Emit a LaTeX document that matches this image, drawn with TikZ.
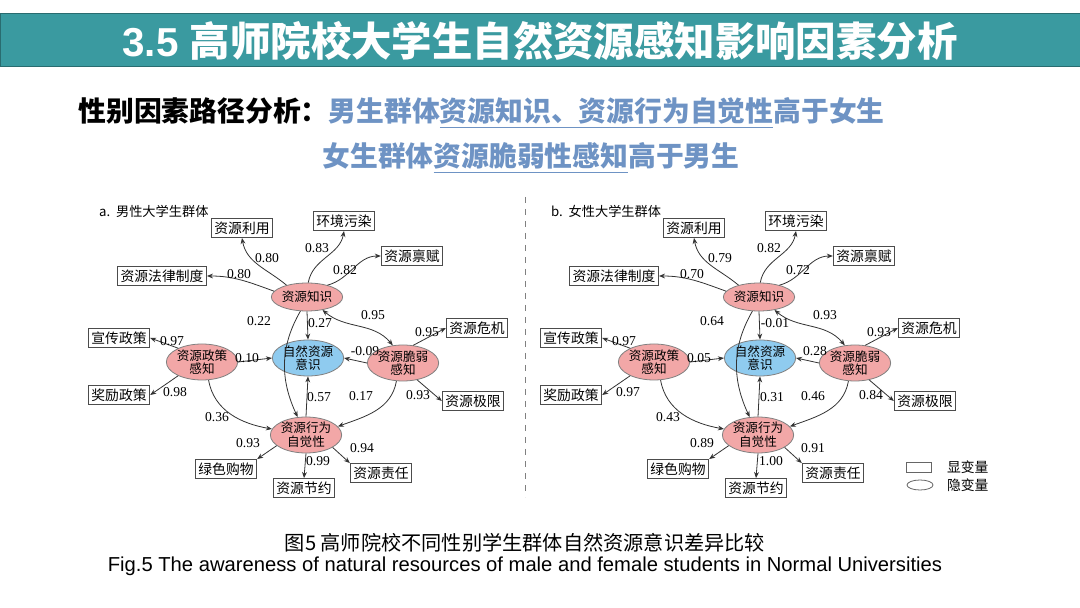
\documentclass[tikz,border=0pt]{standalone}
\usepackage{fontspec}
\setmainfont{Liberation Serif}
\newfontfamily\cjk{Noto Sans CJK SC}
\newfontfamily\arial{Liberation Sans}
\usetikzlibrary{arrows.meta,shapes.geometric}
\definecolor{teal}{HTML}{3A9AA0}
\definecolor{hblue}{HTML}{6E93C4}
\definecolor{lat}{HTML}{F2A7A7}
\definecolor{dep}{HTML}{8FCBEF}
\tikzset{
 box/.style={draw=black!70,fill=white,line width=0.4pt,inner sep=1.6pt,minimum height=9pt,font=\cjk\fontsize{6.9}{7.5}\selectfont},
 lv/.style={ellipse,draw=black!50,fill=lat,line width=0.4pt,minimum width=32pt,minimum height=14pt,inner sep=0pt,align=center,font=\cjk\fontsize{6.3}{6.8}\selectfont},
 lv2/.style={lv,minimum height=18pt},
 num/.style={font=\fontsize{6.8}{7}\selectfont},
 arr/.style={-{Stealth[length=3pt,width=2.4pt]},line width=0.4pt,black!80},
 darr/.style={{Stealth[length=3pt,width=2.4pt]}-{Stealth[length=3pt,width=2.4pt]},line width=0.4pt,black!80}
}
\newcommand{\drawpanel}[1]{%
\begin{scope}[xshift=#1*0.5pt]
\node[lv] (K) at (307,297) {资源知识};
\node[lv2,fill=dep] (A) at (308,358) {自然资源\\意识};
\node[lv2] (P) at (202,362) {资源政策\\感知};
\node[lv2] (V) at (403,363) {资源脆弱\\感知};
\node[lv2] (B) at (306,435) {资源行为\\自觉性};
\node[box] (b1) at (242,228) {资源利用};
\node[box] (b2) at (344,221) {环境污染};
\node[box] (b3) at (412,256) {资源禀赋};
\node[box] (b4) at (162,276) {资源法律制度};
\node[box] (b5) at (119,338) {宣传政策};
\node[box] (b6) at (119,395) {奖励政策};
\node[box] (b7) at (477,328) {资源危机};
\node[box] (b8) at (473,401) {资源极限};
\node[box] (b9) at (226,469) {绿色购物};
\node[box] (b10) at (304,488) {资源节约};
\node[box] (b11) at (381,473) {资源责任};
\draw[arr] (K.150) to[out=140,in=-80] (b1.south);
\draw[arr] (K.85) to[out=80,in=-100] (b2.south);
\draw[arr] (K.30) to[out=15,in=180] (b3.west);
\draw[arr] (K.170) to[out=160,in=0] (b4.east);
\draw[arr] (P.150) -- (b5.east);
\draw[arr] (P.210) -- (b6.east);
\draw[arr] (V.60) -- (b7.west);
\draw[arr] (V.-50) -- (b8.west);
\draw[arr] (B.200) -- (b9.north east);
\draw[arr] (B.south) -- (b10.north);
\draw[arr] (B.-25) -- (b11.north west);
\draw[arr] (K.south) -- (A.north);
\draw[arr] (P.east) -- (A.west);
\draw[arr] (V.west) -- (A.east);
\draw[arr] (B.north) -- (A.south);
\draw[darr] (K.-40) to[out=-40,in=130] (V.120);
\draw[arr] (K.-115) to[out=-120,in=115] (B.115);
\draw[arr] (P.-70) to[out=-80,in=170] (B.170);
\draw[arr] (V.-110) to[out=-100,in=20] (B.15);
\end{scope}}
\newcommand{\lab}[3]{\node[num] at (#1,#2) {#3};}
\begin{document}
\begin{tikzpicture}[x=0.5pt,y=-0.5pt]
\useasboundingbox (0,0) rectangle (1080,608);
\fill[white] (0,0) rectangle (1080,608);
\fill[teal] (0,14) rectangle (1080,67);
\draw[teal!70!black,line width=0.5pt] (0,14) rectangle (1080,67);
\node[font=\arial\bfseries\fontsize{20.2}{23}\selectfont,text=white] (title) at (540,41) {3.5 {\cjk\bfseries 高师院校大学生自然资源感知影响因素分析}};
\node[anchor=west,font=\cjk\bfseries\fontsize{13.9}{16}\selectfont,inner sep=0] (s1) at (78,113) {性别因素路径分析：\textcolor{hblue}{男生群体\underline{资源知识、资源行为自觉性}高于女生}};
\node[anchor=west,font=\cjk\bfseries\fontsize{13.9}{16}\selectfont,inner sep=0,text=hblue] (s2) at (322,158) {女生群体\underline{资源脆弱性感知}高于男生};
\draw[dashed,black!50,line width=0.4pt] (525,197) -- (525,497);
\node[anchor=west,font=\cjk\fontsize{6.6}{7}\selectfont] (ta) at (92,211) {a.\ \ 男性大学生群体};
\node[anchor=west,font=\cjk\fontsize{6.6}{7}\selectfont] (tb) at (544,211) {b.\ \ 女性大学生群体};
\drawpanel{0}
\lab{267}{258}{0.80}\lab{317}{248}{0.83}\lab{345}{270}{0.82}\lab{239}{274}{0.80}
\lab{373}{315}{0.95}\lab{259}{321}{0.22}\lab{320}{323}{0.27}\lab{172}{341}{0.97}
\lab{247}{358}{0.10}\lab{365}{351}{-0.09}\lab{427}{332}{0.95}\lab{175}{392}{0.98}
\lab{319}{397}{0.57}\lab{361}{396}{0.17}\lab{418}{395}{0.93}\lab{217}{417}{0.36}
\lab{248}{443}{0.93}\lab{362}{448}{0.94}\lab{318}{461}{0.99}
\drawpanel{452}
\lab{720}{258}{0.79}\lab{769}{248}{0.82}\lab{798}{270}{0.72}\lab{692}{274}{0.70}
\lab{825}{315}{0.93}\lab{712}{321}{0.64}\lab{775}{323}{-0.01}\lab{624}{341}{0.97}
\lab{699}{358}{0.05}\lab{815}{351}{0.28}\lab{879}{332}{0.93}\lab{628}{392}{0.97}
\lab{772}{397}{0.31}\lab{813}{396}{0.46}\lab{871}{395}{0.84}\lab{668}{417}{0.43}
\lab{702}{443}{0.89}\lab{813}{448}{0.91}\lab{771}{461}{1.00}
\draw[black!60,line width=0.4pt] (906,462) rectangle (931,472);
\node[font=\cjk\fontsize{6.9}{7}\selectfont,anchor=west] (l1) at (940,467) {显变量};
\draw[black!60,line width=0.4pt] (920,485) ellipse (13 and 5);
\node[font=\cjk\fontsize{6.9}{7}\selectfont,anchor=west] (l2) at (940,485) {隐变量};
\node[font=\cjk\fontsize{10.1}{11}\selectfont] (c1) at (525,543) {图5 高师院校不同性别学生群体自然资源意识差异比较};
\node[font=\arial\fontsize{10.1}{11}\selectfont] (c2) at (525,566) {Fig.5 The awareness of natural resources of male and female students in Normal Universities};
\end{tikzpicture}
\end{document}
